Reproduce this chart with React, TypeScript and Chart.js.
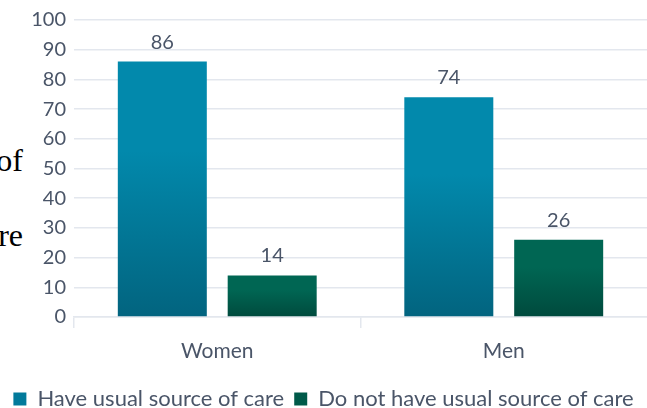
import React, { useEffect, useRef } from "react";
import { Chart, registerables } from "chart.js";

Chart.register(...registerables);

const categories = ["Women", "Men"];
const haveCare = [86, 74];
const noCare = [14, 26];
const seriesNames = ["Have usual source of care", "Do not have usual source of care"];

const TEXT = "#4a5568";
const GRID = "#e3e7ee";

function barGradient(ctx: any, top: string, bottom: string) {
  const chart = ctx.chart;
  const y = chart.scales && chart.scales.y;
  if (!chart.chartArea || !y || ctx.type !== "data") return top;
  const v = ctx.raw as number;
  const y0 = y.getPixelForValue(v);
  const y1 = y.getPixelForValue(0);
  const g = chart.ctx.createLinearGradient(0, y0, 0, y1);
  g.addColorStop(0, top);
  g.addColorStop(0.35, top);
  g.addColorStop(1, bottom);
  return g;
}

const valueLabels = {
  id: "valueLabels",
  afterDatasetsDraw(chart: any) {
    const c = chart.ctx;
    c.save();
    c.font = "20px Lato";
    c.fillStyle = TEXT;
    c.textAlign = "center";
    c.textBaseline = "alphabetic";
    chart.data.datasets.forEach((ds: any, i: number) => {
      const meta = chart.getDatasetMeta(i);
      meta.data.forEach((el: any, j: number) => {
        c.fillText(String(ds.data[j]), el.x, el.y - 13);
      });
    });
    c.restore();
  },
};

export default function App() {
  const ref = useRef<HTMLCanvasElement>(null);
  useEffect(() => {
    if (!ref.current) return;
    const chart = new Chart(ref.current, {
      type: "bar",
      data: {
        labels: categories,
        datasets: [
          {
            label: seriesNames[0],
            data: haveCare,
            backgroundColor: (ctx: any) => barGradient(ctx, "#0289ac", "#02647f"),
            barPercentage: 0.81,
            categoryPercentage: 0.767,
          },
          {
            label: seriesNames[1],
            data: noCare,
            backgroundColor: (ctx: any) => barGradient(ctx, "#006653", "#004a3d"),
            barPercentage: 0.81,
            categoryPercentage: 0.767,
          },
        ],
      },
      options: {
        animation: false,
        responsive: false,
        maintainAspectRatio: false,
        layout: { padding: { top: 10, right: 0, left: 0, bottom: -12 } },
        scales: {
          x: {
            afterFit: (s: any) => { s.height = 61; },
            border: { display: true, color: GRID, width: 1.5 },
            grid: {
              display: true,
              drawOnChartArea: false,
              drawTicks: true,
              tickLength: 11,
              color: GRID,
              tickColor: (c: any) => (c.type === "tick" ? GRID : "rgba(0,0,0,0)"),
              lineWidth: 1.5,
            },
            ticks: { color: TEXT, font: { family: "Lato", size: 21 }, padding: 11 },
          },
          y: {
            min: 0,
            max: 100,
            afterFit: (s: any) => { s.width = 74; },
            border: { display: false },
            grid: { color: GRID, lineWidth: 1.5, drawTicks: false },
            ticks: { stepSize: 10, color: TEXT, font: { family: "Lato", size: 20 }, padding: 8 },
          },
        },
        plugins: {
          legend: {
            position: "bottom",
            labels: {
              color: TEXT,
              font: { family: "Lato", size: 22, lineHeight: 1 },
              boxWidth: 13,
              boxHeight: 13,
              padding: 10,
              generateLabels: () => [
                { text: seriesNames[0], fillStyle: "#027a9b", strokeStyle: "#027a9b", lineWidth: 0, datasetIndex: 0, fontColor: TEXT },
                { text: seriesNames[1], fillStyle: "#005a49", strokeStyle: "#005a49", lineWidth: 0, datasetIndex: 1, fontColor: TEXT },
              ],
            },
          },
          tooltip: { enabled: false },
        },
      },
      plugins: [valueLabels],
    });
    return () => chart.destroy();
  }, []);

  return (
    <div style={{ position: "fixed", left: 0, top: 0, width: 647, height: 408, overflow: "hidden", background: "#fff" }}>
      <div style={{ position: "absolute", left: 0, top: 0, width: 23, height: 408, overflow: "visible", fontFamily: "'Liberation Serif', serif", fontSize: 32, color: "#000", textAlign: "right" }}>
        <span style={{ position: "absolute", right: 0, top: 142, whiteSpace: "nowrap" }}>of</span>
        <span style={{ position: "absolute", right: 0, top: 217, whiteSpace: "nowrap" }}>re</span>
      </div>
      <canvas ref={ref} width={647} height={408} style={{ position: "absolute", left: 0, top: 0, width: 647, height: 408, background: "transparent" }} />
    </div>
  );
}
